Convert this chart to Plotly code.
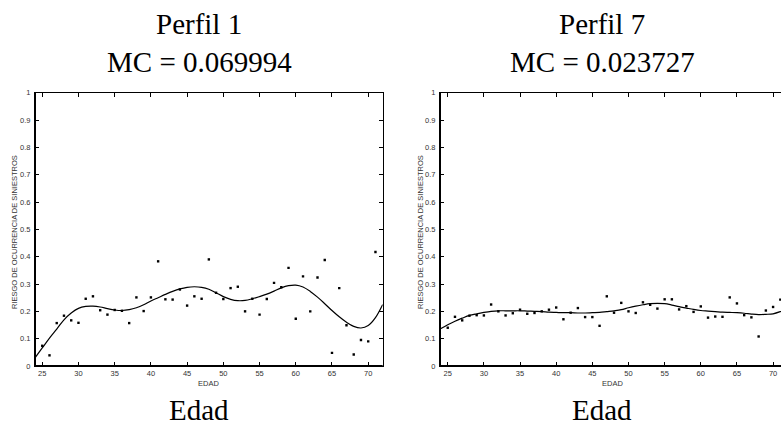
import plotly.graph_objects as go

# ---------------- data ----------------
ages1 = [25, 26, 27, 28, 29, 30, 31, 32, 33, 34, 35, 36, 37, 38, 39, 40, 41, 42, 43, 44, 45, 46, 47, 48,
         49, 50, 51, 52, 53, 54, 55, 56, 57, 58, 59, 60, 61, 62, 63, 64, 65, 66, 67, 68, 69, 70, 71]
risk1 = [0.074, 0.039, 0.157, 0.184, 0.167, 0.158, 0.246, 0.255, 0.204, 0.188, 0.205, 0.202, 0.157, 0.251,
         0.201, 0.251, 0.383, 0.244, 0.243, 0.280, 0.221, 0.255, 0.246, 0.390,
         0.268, 0.245, 0.285, 0.290, 0.200, 0.246, 0.188, 0.245, 0.304, 0.288, 0.359, 0.173, 0.328, 0.200,
         0.324, 0.388, 0.048, 0.285, 0.149, 0.042, 0.095, 0.090, 0.417]

fit_ages = list(range(24, 73))
fit1 = [0.030, 0.066, 0.102, 0.135, 0.169, 0.194, 0.211, 0.218, 0.219, 0.216, 0.210, 0.205, 0.203, 0.206,
        0.213, 0.224, 0.238, 0.250, 0.262, 0.273, 0.282, 0.288, 0.290, 0.288, 0.281, 0.268, 0.254, 0.244,
        0.239, 0.240, 0.246, 0.254, 0.263, 0.274, 0.286, 0.294, 0.296, 0.289, 0.273, 0.252, 0.228, 0.203,
        0.180, 0.160, 0.145, 0.139, 0.148, 0.177, 0.225]

ages7 = [25, 26, 27, 28, 29, 30, 31, 32, 33, 34, 35, 36, 37, 38, 39, 40, 41, 42, 43, 44, 45, 46, 47, 48,
         49, 50, 51, 52, 53, 54, 55, 56, 57, 58, 59, 60, 61, 62, 63, 64, 65, 66, 67, 68, 69, 70, 71]
risk7 = [0.140, 0.180, 0.167, 0.184, 0.186, 0.185, 0.225, 0.200, 0.185, 0.193, 0.206, 0.191, 0.194, 0.200,
         0.206, 0.214, 0.171, 0.195, 0.212, 0.179, 0.179, 0.147, 0.255, 0.195,
         0.231, 0.200, 0.194, 0.233, 0.224, 0.210, 0.244, 0.244, 0.207, 0.219, 0.198, 0.218, 0.177, 0.181,
         0.180, 0.251, 0.229, 0.186, 0.178, 0.108, 0.203, 0.216, 0.243]

fit7 = [0.136, 0.151, 0.164, 0.175, 0.185, 0.191, 0.196, 0.200, 0.202, 0.202, 0.202, 0.202, 0.201, 0.200,
        0.199, 0.197, 0.196, 0.195, 0.195, 0.194, 0.194, 0.195, 0.196, 0.199, 0.202, 0.206, 0.213, 0.219,
        0.224, 0.228, 0.229, 0.228, 0.223, 0.217, 0.212, 0.207, 0.203, 0.201, 0.199, 0.197, 0.196, 0.195,
        0.193, 0.190, 0.188, 0.189, 0.191, 0.199, 0.210]

titles_1 = ["Perfil 1", "Perfil 7"]
titles_2 = ["MC = 0.069994", "MC = 0.023727"]
captions = ["Edad", "Edad"]
x_ticks = [25, 30, 35, 40, 45, 50, 55, 60, 65, 70]
y_ticks = [0, 0.1, 0.2, 0.3, 0.4, 0.5, 0.6, 0.7, 0.8, 0.9, 1]
y_label = "RIESGO DE OCURRENCIA DE SINIESTROS"
x_label = "EDAD"

# ---------------- figure ----------------
W, H = 781, 428
fig = go.Figure()

fig.add_trace(go.Scatter(x=ages1, y=risk1, mode="markers", xaxis="x", yaxis="y",
                         marker=dict(color="black", size=2.4, symbol="square"), showlegend=False))
fig.add_trace(go.Scatter(x=fit_ages, y=fit1, mode="lines", xaxis="x", yaxis="y", line_shape="spline",
                         line=dict(color="black", width=1.2), showlegend=False))
fig.add_trace(go.Scatter(x=ages7, y=risk7, mode="markers", xaxis="x2", yaxis="y2",
                         marker=dict(color="black", size=2.4, symbol="square"), showlegend=False))
fig.add_trace(go.Scatter(x=fit_ages, y=fit7, mode="lines", xaxis="x2", yaxis="y2", line_shape="spline",
                         line=dict(color="black", width=1.2), showlegend=False))

y_bot, y_top = 366.0, 92.7
ydom = [(H - y_bot) / H, (H - y_top) / H]
dom1 = [35 / W, 382.7 / W]
dom2 = [440 / W, 1.0]

tickfont = dict(family="Liberation Sans, Arial, sans-serif", size=7.5, color="#333333")
common_x = dict(tickvals=x_ticks, ticks="inside", ticklen=4, tickwidth=1, tickcolor="black",
                showline=True, linecolor="black", linewidth=1, mirror="ticks", showgrid=False,
                zeroline=False, tickfont=tickfont, automargin=False, fixedrange=True)
common_y = dict(tickvals=y_ticks, ticks="inside", ticklen=4, tickwidth=1, tickcolor="black",
                showline=True, linecolor="black", linewidth=1, showgrid=False, range=[0, 1],
                zeroline=False, tickfont=tickfont, automargin=False, fixedrange=True, ticklabelstandoff=2)

fig.update_layout(
    width=W, height=H, margin=dict(l=0, r=0, t=0, b=0),
    paper_bgcolor="white", plot_bgcolor="white",
    xaxis=dict(domain=dom1, range=[24, 72], anchor="y", **common_x),
    yaxis=dict(domain=ydom, anchor="x", mirror="ticks", **common_y),
    xaxis2=dict(domain=dom2, range=[23.93, 23.93 + 341 / 7.23], anchor="y2", **common_x),
    yaxis2=dict(domain=ydom, anchor="x2", mirror=False, **common_y),
)

# thicker bottom / left axis lines
for xd, yd in (("x domain", "y domain"), ("x2 domain", "y2 domain")):
    fig.add_shape(type="line", xref=xd, yref=yd, x0=0, x1=1, y0=0, y1=0,
                  line=dict(color="black", width=2))
    fig.add_shape(type="line", xref=xd, yref=yd, x0=0, x1=0, y0=0, y1=1,
                  line=dict(color="black", width=2))

serif = dict(family="Liberation Serif, Times New Roman, serif", size=29, color="black")
small = dict(family="Liberation Sans, Arial, sans-serif", size=7.5, color="#333333")

for cx, t1, t2, c in ((199, titles_1[0], titles_2[0], captions[0]),
                      (602, titles_1[1], titles_2[1], captions[1])):
    fig.add_annotation(text=t1, x=cx / W, y=1 - 24 / H, xref="paper", yref="paper",
                       showarrow=False, font=serif, xanchor="center", yanchor="middle")
    fig.add_annotation(text=t2, x=cx / W, y=1 - 62 / H, xref="paper", yref="paper",
                       showarrow=False, font=serif, xanchor="center", yanchor="middle")
    fig.add_annotation(text=c, x=cx / W, y=1 - 410 / H, xref="paper", yref="paper",
                       showarrow=False, font=serif, xanchor="center", yanchor="middle")

for cx in (209, 612):
    fig.add_annotation(text=x_label, x=cx / W, y=1 - 383 / H, xref="paper", yref="paper",
                       showarrow=False, font=small, xanchor="center", yanchor="middle")
for lx in (15, 421):
    fig.add_annotation(text=y_label, x=lx / W, y=1 - 232 / H, xref="paper", yref="paper",
                       showarrow=False, font=small, xanchor="center", yanchor="middle", textangle=-90)

fig.write_html("out.html", config={"displayModeBar": False},
               post_script="document.body.style.margin='0';")
